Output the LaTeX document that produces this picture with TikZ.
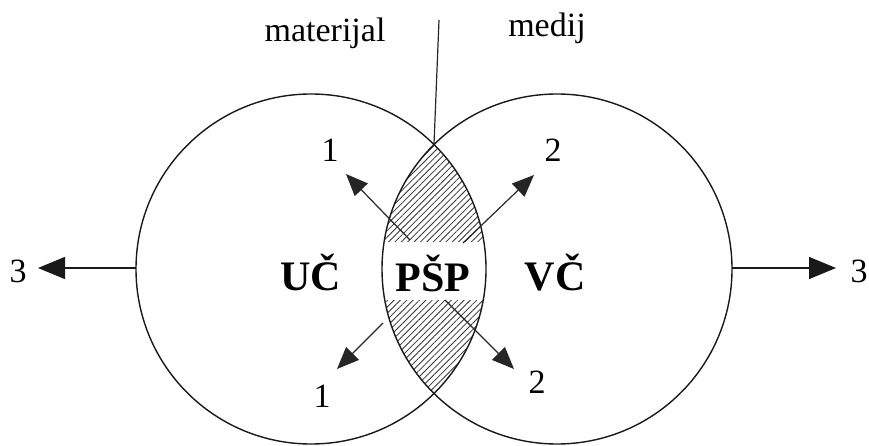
\documentclass[tikz,border=0pt]{standalone}
\usepackage{fontspec}
\setmainfont{Liberation Serif}
\usetikzlibrary{arrows.meta,patterns.meta}
\begin{document}
\begin{tikzpicture}[x=1pt,y=-1pt,
  ring/.style={draw=black!90,line width=1.4pt},
  flow/.style={draw=black!85,line width=1.2pt,-{Triangle[length=22pt,width=18pt]}},
  outflow/.style={draw=black!90,line width=1.3pt,-{Triangle[length=27pt,width=22pt]}},
  small/.style={font=\fontsize{34}{40}\selectfont,anchor=base,inner sep=0pt},
  big/.style={font=\fontsize{42}{48}\selectfont\bfseries,anchor=base,inner sep=0pt}]
\useasboundingbox (0,0) rectangle (869,446);
\coordinate (cL) at (311,269);
\coordinate (cR) at (557,269);
% hatched lens
\begin{scope}
  \clip (cL) circle (175);
  \fill[pattern={Lines[angle=45,distance=4.5pt,line width=0.8pt]},pattern color=black!80] (cR) circle (175);
  \fill[white] (370,242) rectangle (500,300);
\end{scope}
\draw[ring] (cL) circle (175);
\draw[ring] (cR) circle (175);
% boundary line
\coordinate (top) at (434,144);
\coordinate (lineend) at (439,20);
\draw[black!85,line width=1.2pt] (top) -- (lineend);
% labels
\node[small] (mat) at (325,42) {materijal};
\node[small] (med) at (547,37) {medij};
\node[big] (uc) at (311,290) {UČ};
\node[big] (psp) at (433,291) {PŠP};
\node[big] (vc) at (555,290) {VČ};
\node[small] (n1a) at (330,162) {1};
\node[small] (n2a) at (553,162) {2};
\node[small] (n1b) at (322,407) {1};
\node[small] (n2b) at (537,393) {2};
\node[small] (n3a) at (18,282) {3};
\node[small] (n3b) at (859,282) {3};
% arrows
\coordinate (s1) at (410,240); \coordinate (t1) at (346,174);
\coordinate (s2) at (463,243); \coordinate (t2) at (534,175);
\coordinate (s3) at (383,323); \coordinate (t3) at (337,369);
\coordinate (s4) at (445,300); \coordinate (t4) at (514,369);
\draw[flow] (s1) -- (t1);
\draw[flow] (s2) -- (t2);
\draw[flow] (s3) -- (t3);
\draw[flow] (s4) -- (t4);
\coordinate (sL) at (136,268); \coordinate (tL) at (38,268);
\coordinate (sR) at (732,268); \coordinate (tR) at (836,268);
\draw[outflow] (sL) -- (tL);
\draw[outflow] (sR) -- (tR);
\end{tikzpicture}
\end{document}
